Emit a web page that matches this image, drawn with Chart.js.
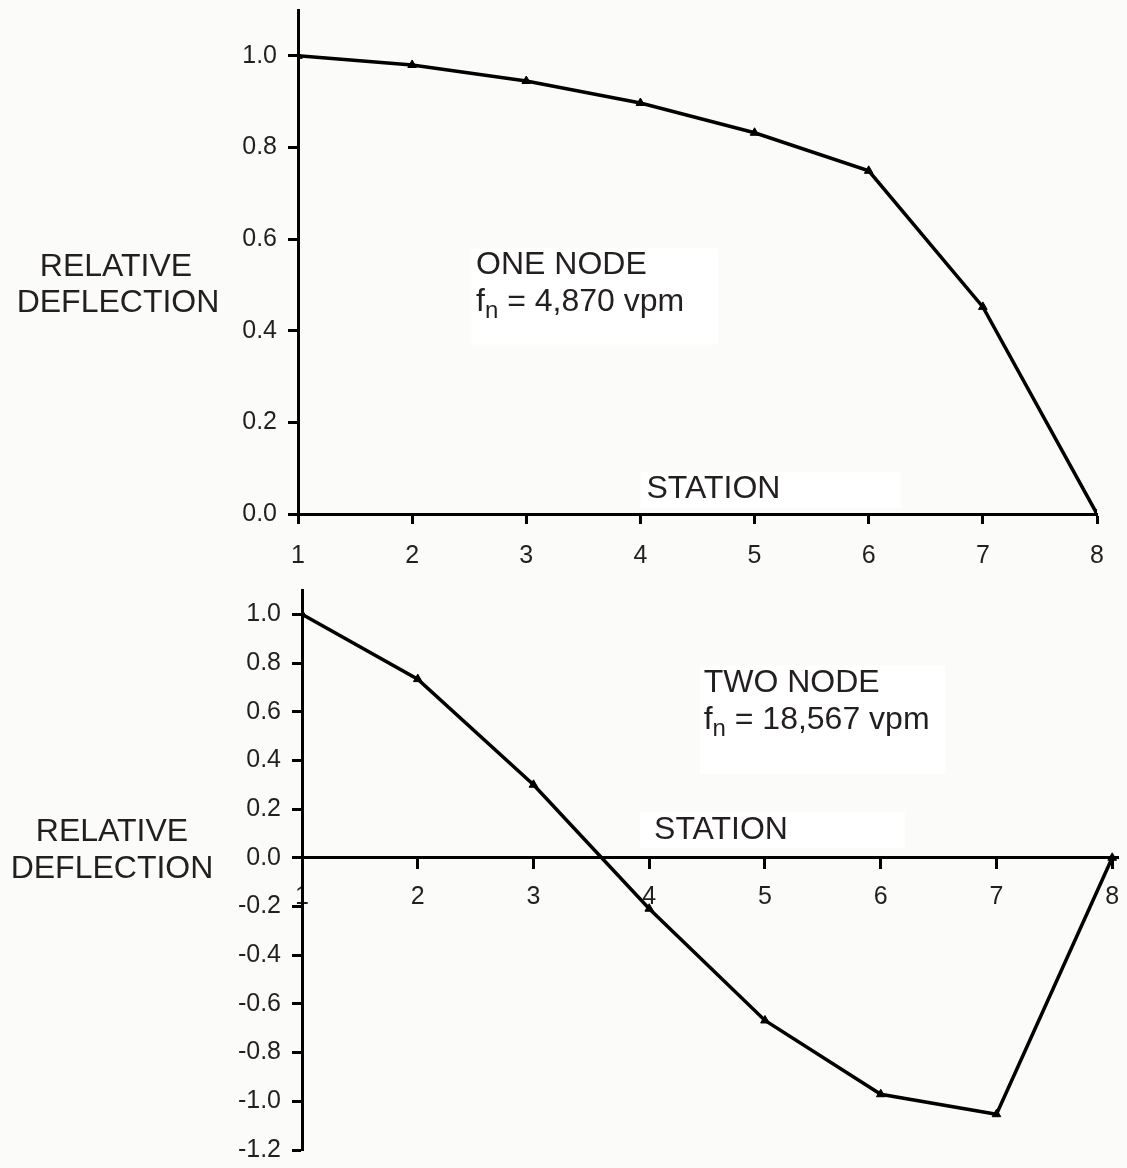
<!DOCTYPE html>
<html>
<head>
<meta charset="utf-8">
<script src="https://cdn.jsdelivr.net/npm/chart.js@4.4.0/dist/chart.umd.min.js"></script>
<style>
  html, body { margin: 0; padding: 0; background: #fbfbf9; }
  #wrap { position: relative; width: 1127px; height: 1168px; }
  .panel { position: absolute; left: 0; width: 1127px; }
</style>
</head>
<body>
<div id="wrap">
  <div class="panel" style="top:0;height:580px"><canvas id="oneNode" width="1127" height="580"></canvas></div>
  <div class="panel" style="top:580px;height:588px"><canvas id="twoNode" width="1127" height="588"></canvas></div>
</div>
<script>
// station numbers along the shaft
const stations = [1, 2, 3, 4, 5, 6, 7, 8];
// relative deflection
const oneNodeDeflection = [1.0, 0.98, 0.945, 0.897, 0.832, 0.749, 0.452, 0.0];
const twoNodeDeflection = [1.0, 0.734, 0.30, -0.209, -0.668, -0.971, -1.053, 0.0];
// tick labels
const stationTicks = [1, 2, 3, 4, 5, 6, 7, 8];
const oneNodeYTicks = [0.0, 0.2, 0.4, 0.6, 0.8, 1.0];
const twoNodeYTicks = [-1.2, -1.0, -0.8, -0.6, -0.4, -0.2, 0.0, 0.2, 0.4, 0.6, 0.8, 1.0];

const TEXT = '#231f20';
const FONT = '"Liberation Sans", Arial, sans-serif';

// white label boxes behind text, then the text itself
const notes = {
  id: 'notes',
  beforeDatasetsDraw(chart, args, opts) {
    const { ctx, scales: { x, y } } = chart;
    ctx.save();
    ctx.fillStyle = '#ffffff';
    (opts.boxes || []).forEach(b => {
      const l = x.getPixelForValue(b.x0), r = x.getPixelForValue(b.x1);
      const t = y.getPixelForValue(b.y0), btm = y.getPixelForValue(b.y1);
      ctx.fillRect(l, t, r - l, btm - t);
    });
    ctx.restore();
  },
  afterDraw(chart, args, opts) {
    const { ctx, scales: { x, y } } = chart;
    ctx.save();
    ctx.fillStyle = TEXT;
    ctx.textBaseline = 'middle';
    (opts.texts || []).forEach(t => {
      const px = t.px != null ? t.px : x.getPixelForValue(t.x);
      const py = t.py != null ? t.py : y.getPixelForValue(t.y);
      ctx.font = `${t.size}px ${FONT}`;
      ctx.textAlign = t.align || 'left';
      if (t.sub) {
        // "f" + subscript "n" + rest
        ctx.textAlign = 'left';
        let cx = px;
        ctx.fillText(t.text, cx, py);
        cx += ctx.measureText(t.text).width;
        ctx.font = `${Math.round(t.size * 0.75)}px ${FONT}`;
        ctx.fillText(t.sub, cx, py + t.size * 0.3);
        cx += ctx.measureText(t.sub).width;
        ctx.font = `${t.size}px ${FONT}`;
        ctx.fillText(t.rest, cx, py);
      } else {
        ctx.fillText(t.text, px, py);
      }
    });
    ctx.restore();
  }
};

function axisStyle(extra) {
  return Object.assign({
    type: 'linear',
    border: { display: true, color: '#000', width: 3 },
    grid: { drawOnChartArea: false, drawTicks: true, tickLength: 10, tickWidth: 3, tickColor: '#000' },
  }, extra);
}

function makeChart(id, values, o) {
  return new Chart(document.getElementById(id), {
    type: 'line',
    data: {
      datasets: [{
        data: stations.map((s, i) => ({ x: s, y: values[i] })),
        borderColor: '#000',
        backgroundColor: '#000',
        borderWidth: 3.5,
        pointStyle: 'triangle',
        pointRadius: 5,
        pointBorderWidth: 1,
        tension: 0
      }]
    },
    options: {
      responsive: false,
      animation: false,
      devicePixelRatio: 1,
      layout: { padding: o.padding },
      plugins: {
        legend: { display: false },
        tooltip: { enabled: false },
        notes: { boxes: o.boxes, texts: o.texts }
      },
      scales: {
        x: axisStyle({
          position: o.xPosition,
          min: 1, max: o.xMax,
          afterBuildTicks: s => { s.ticks = stationTicks.map(v => ({ value: v })); },
          afterFit: s => {
            if (o.xHeight) s.height = o.xHeight;
            s.paddingLeft = 0; s.paddingRight = 0;
          },
          ticks: { color: TEXT, font: { family: FONT, size: 25 }, padding: o.xPad, callback: v => String(v) }
        }),
        y: axisStyle({
          min: o.yMin, max: o.yMax,
          afterBuildTicks: s => { s.ticks = o.yTicks.map(v => ({ value: v })); },
          afterFit: s => {
            s.width = o.yWidth;
            s.paddingTop = 0; s.paddingBottom = 0;
          },
          ticks: { color: TEXT, font: { family: FONT, size: 25 }, padding: 11, callback: v => v.toFixed(1) }
        })
      }
    },
    plugins: [notes]
  });
}

makeChart('oneNode', oneNodeDeflection, {
  padding: { top: 10, right: 30, bottom: 0, left: 0 },
  xPosition: 'bottom', xMax: 8, xHeight: 66, xPad: 17,
  yMin: 0, yMax: 1.1, yTicks: oneNodeYTicks, yWidth: 298,
  boxes: [
    { x0: 2.52, x1: 4.68, y0: 0.58, y1: 0.37 },
    { x0: 4.0, x1: 6.28, y0: 0.092, y1: 0.013 }
  ],
  texts: [
    { x: 2.56, y: 0.544, text: 'ONE NODE', size: 32 },
    { x: 2.56, y: 0.463, text: 'f', sub: 'n', rest: ' = 4,870 vpm', size: 32 },
    { x: 4.64, y: 0.055, text: 'STATION', size: 32, align: 'center' },
    { px: 116, py: 267, text: 'RELATIVE', size: 32, align: 'center' },
    { px: 118, py: 303, text: 'DEFLECTION', size: 32, align: 'center' }
  ]
});

makeChart('twoNode', twoNodeDeflection, {
  padding: { top: 10, right: 9, bottom: 18, left: 0 },
  xPosition: { y: 0 }, xMax: 8.05, xHeight: 0, xPad: 14,
  yMin: -1.2, yMax: 1.1, yTicks: twoNodeYTicks, yWidth: 302,
  boxes: [
    { x0: 4.44, x1: 6.56, y0: 0.791, y1: 0.344 },
    { x0: 3.92, x1: 6.21, y0: 0.19, y1: 0.04 }
  ],
  texts: [
    { x: 4.47, y: 0.717, text: 'TWO NODE', size: 32 },
    { x: 4.47, y: 0.566, text: 'f', sub: 'n', rest: ' = 18,567 vpm', size: 32 },
    { x: 4.62, y: 0.115, text: 'STATION', size: 32, align: 'center' },
    { px: 112, py: 252, text: 'RELATIVE', size: 32, align: 'center' },
    { px: 112, py: 289, text: 'DEFLECTION', size: 32, align: 'center' }
  ]
});
</script>
</body>
</html>
